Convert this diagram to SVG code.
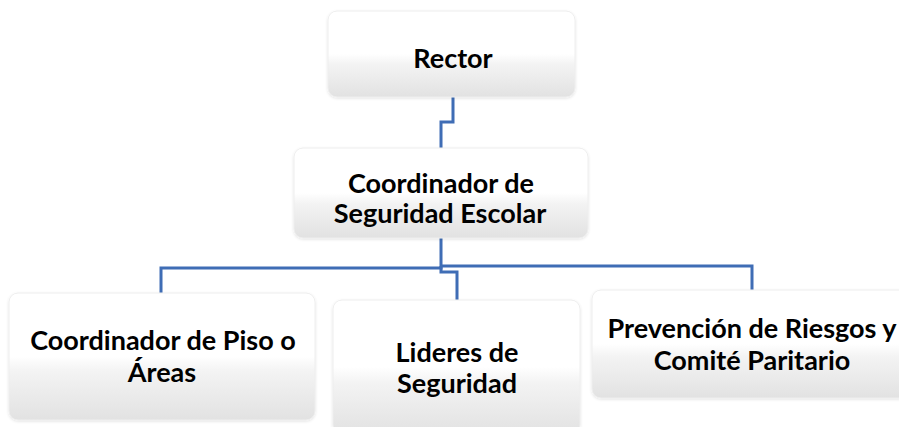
<svg xmlns="http://www.w3.org/2000/svg" width="899" height="427" viewBox="0 0 899 427">
  <defs>
    <linearGradient id="boxfill" x1="0" y1="0" x2="0" y2="1">
      <stop offset="0" stop-color="#ffffff"/>
      <stop offset="0.5" stop-color="#ffffff"/>
      <stop offset="0.62" stop-color="#f3f3f3"/>
      <stop offset="1" stop-color="#e2e2e2"/>
    </linearGradient>
    <filter id="shadow" x="-5%" y="-10%" width="110%" height="125%">
      <feGaussianBlur in="SourceAlpha" stdDeviation="1.5"/>
      <feOffset dx="0" dy="1" result="b"/>
      <feComponentTransfer><feFuncA type="linear" slope="0.12"/></feComponentTransfer>
      <feMerge><feMergeNode/><feMergeNode in="SourceGraphic"/></feMerge>
    </filter>
  </defs>
  <style>
    .box { fill: url(#boxfill); stroke: #eeeeee; stroke-width: 1; filter: url(#shadow); }
    .lbl { font-family: Lato, "Liberation Sans", Arial, sans-serif; font-weight: bold; font-size: 27px; fill: #000000; text-anchor: middle; }
    .conn { fill: none; stroke: #3F6DB5; stroke-width: 3; }
  </style>
  <rect width="899" height="427" fill="#ffffff"/>

  <g id="connectors">
    <polyline class="conn" points="453,97 453,122 441,122 441,148"/>
    <polyline class="conn" points="441,238 441,268 161,268 161,293"/>
    <polyline class="conn" points="441,266 752,266 752,290"/>
    <polyline class="conn" points="441,266 441,272 457,272 457,300"/>
  </g>

  <g id="rector">
    <rect class="box" x="328" y="11" width="247" height="86" rx="9"/>
    <text class="lbl" x="453" y="68">Rector</text>
  </g>

  <g id="coordinador-seguridad">
    <rect class="box" x="294" y="148" width="294" height="90" rx="9"/>
    <text class="lbl" x="441" y="193">Coordinador de</text>
    <text class="lbl" x="440" y="223">Seguridad Escolar</text>
  </g>

  <g id="coordinador-piso">
    <rect class="box" x="9" y="293" width="306" height="127" rx="9"/>
    <text class="lbl" x="163" y="350">Coordinador de Piso o</text>
    <text class="lbl" x="162" y="382">Áreas</text>
  </g>

  <g id="lideres">
    <rect class="box" x="333" y="300" width="247" height="134" rx="9"/>
    <text class="lbl" x="457" y="362">Lideres de</text>
    <text class="lbl" x="457" y="393">Seguridad</text>
  </g>

  <g id="prevencion">
    <rect class="box" x="592" y="290" width="316" height="108" rx="9"/>
    <text class="lbl" x="752" y="338">Prevención de Riesgos y</text>
    <text class="lbl" x="752" y="370">Comité Paritario</text>
  </g>
</svg>
